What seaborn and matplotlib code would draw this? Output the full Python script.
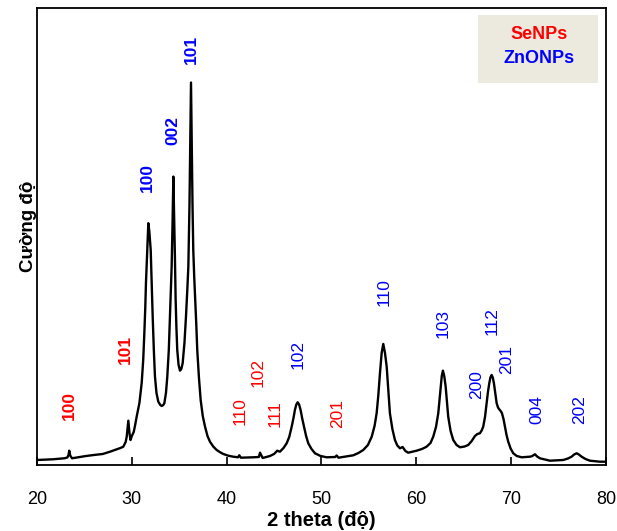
import matplotlib
matplotlib.use("Agg")
import pandas as pd
import matplotlib.pyplot as plt
import seaborn as sns
from matplotlib.patches import Rectangle

# XRD pattern (2 theta in degrees, intensity in a.u.)
two_theta = [20.00, 21.65, 22.88, 23.20, 23.32, 23.40, 23.50, 23.69, 24.50, 25.17,
             26.00, 26.93, 27.70, 28.40, 28.80, 29.10, 29.35, 29.46, 29.63, 29.75,
             29.86, 30.00, 30.20, 30.35, 30.51, 30.80, 31.04, 31.20, 31.32, 31.42,
             31.49, 31.63, 31.74, 31.85, 31.99, 32.10, 32.20, 32.32, 32.44, 32.60,
             32.79, 33.00, 33.15, 33.30, 33.43, 33.60, 33.74, 33.90, 34.02, 34.12,
             34.20, 34.30, 34.38, 34.47, 34.55, 34.62, 34.70, 34.79, 34.93, 35.08,
             35.22, 35.36, 35.55, 35.71, 35.85, 35.96, 36.08, 36.16, 36.24, 36.33,
             36.40, 36.48, 36.58, 36.69, 36.80, 36.90, 37.08, 37.26, 37.48, 37.72,
             37.98, 38.24, 38.60, 38.95, 39.30, 39.65, 40.20, 40.70, 41.20, 41.33,
             41.50, 42.80, 43.40, 43.52, 43.80, 44.57, 45.00, 45.34, 45.62, 46.00,
             46.33, 46.60, 46.86, 47.05, 47.20, 47.35, 47.49, 47.64, 47.80, 47.98,
             48.16, 48.38, 48.61, 48.95, 49.32, 49.90, 50.55, 51.45, 51.60, 51.80,
             52.60, 53.36, 53.90, 54.41, 54.90, 55.30, 55.60, 55.82, 56.00, 56.17,
             56.35, 56.52, 56.70, 56.88, 57.05, 57.22, 57.48, 57.75, 58.00, 58.28,
             58.56, 58.85, 59.15, 60.04, 60.60, 61.09, 61.50, 61.79, 62.08, 62.32,
             62.45, 62.57, 62.69, 62.81, 62.95, 63.10, 63.23, 63.37, 63.62, 63.90,
             64.25, 64.61, 65.10, 65.48, 65.85, 66.19, 66.45, 66.71, 66.90, 67.06,
             67.25, 67.42, 67.56, 67.70, 67.82, 67.95, 68.07, 68.19, 68.33, 68.48,
             68.62, 68.75, 68.90, 69.04, 69.20, 69.35, 69.52, 69.70, 69.95, 70.23,
             70.60, 71.11, 71.99, 72.20, 72.52, 72.75, 73.04, 74.10, 75.50, 76.00,
             76.38, 76.65, 76.91, 77.15, 77.44, 77.85, 78.31, 79.37, 80.00]
intensity = [50, 57, 67, 75, 100, 143, 95, 67, 80, 90,
             100, 110, 133, 157, 170, 183, 230, 283, 443, 320,
             250, 290, 330, 400, 483, 620, 820, 1050, 1320, 1580,
             1820, 2150, 2417, 2330, 2150, 1800, 1483, 1150, 883, 720,
             633, 600, 590, 598, 617, 720, 883, 1150, 1483, 1750,
             1983, 2450, 2883, 2450, 2050, 1650, 1380, 1150, 1000, 943,
             960, 1017, 1220, 1483, 1750, 1983, 2600, 3200, 3823, 3100,
             2600, 2150, 1880, 1650, 1400, 1150, 870, 650, 490, 383,
             290, 233, 183, 150, 128, 110, 92, 83, 77, 97,
             73, 77, 80, 123, 70, 90, 110, 143, 133, 170,
             217, 280, 383, 470, 550, 605, 627, 605, 550, 460,
             383, 290, 217, 160, 117, 90, 77, 80, 95, 73,
             85, 97, 120, 150, 200, 283, 390, 517, 700, 917,
             1120, 1210, 1120, 983, 750, 517, 360, 250, 195, 167,
             180, 140, 123, 143, 160, 183, 220, 283, 380, 517,
             650, 783, 890, 943, 890, 783, 640, 483, 340, 250,
             200, 177, 185, 200, 240, 290, 310, 317, 345, 383,
             480, 617, 730, 817, 875, 900, 875, 817, 720, 617,
             575, 557, 540, 517, 460, 383, 300, 233, 165, 117,
             90, 77, 83, 88, 107, 85, 67, 43, 50, 65,
             83, 105, 117, 105, 83, 60, 43, 33, 33]

# peak labels: position, label height, text, phase, bold
lab_x = [23.4, 29.35, 31.67, 34.38, 36.24, 41.41, 43.27, 45.10, 47.49,
         51.67, 56.59, 62.85, 66.37, 68.02, 69.53, 72.69, 77.19]
lab_y = [593, 1160, 2875, 3340, 4153, 540, 925, 515, 1100,
         510, 1725, 1410, 800, 1440, 1050, 550, 550]
lab_text = ["100", "101", "100", "002", "101", "110", "102", "111", "102",
            "201", "110", "103", "200", "112", "201", "004", "202"]
lab_phase = ["Se", "Se", "ZnO", "ZnO", "ZnO", "Se", "Se", "Se", "ZnO",
             "Se", "ZnO", "ZnO", "ZnO", "ZnO", "ZnO", "ZnO", "ZnO"]
lab_bold = [True, True, True, True, True, False, False, False, False,
            False, False, False, False, False, False, False, False]

x_ticks = [20, 30, 40, 50, 60, 70, 80]
phase_colors = {"Se": "#ff0000", "ZnO": "#0000ff"}

df = pd.DataFrame({"two_theta": two_theta, "intensity": intensity})

sns.set_style("ticks")
plt.rcParams["font.family"] = ["Liberation Sans", "DejaVu Sans"]

fig = plt.figure(figsize=(6.17, 5.31), dpi=100)
ax = fig.add_axes([0.06, 0.1243, 0.922, 0.861])

sns.lineplot(data=df, x="two_theta", y="intensity", color="black", linewidth=1.7, ax=ax)

for x, y, t, ph, b in zip(lab_x, lab_y, lab_text, lab_phase, lab_bold):
    ax.text(x, y, t, rotation=90, ha="center", va="center", fontsize=12.5,
            color=phase_colors[ph], fontweight="bold" if b else "normal")

# legend box
ax.add_patch(Rectangle((0.7745, 0.835), 0.2125, 0.15, transform=ax.transAxes,
                       facecolor="#ece9df", edgecolor="none", zorder=3))
ax.text(0.882, 0.941, "SeNPs", transform=ax.transAxes, ha="center", va="center",
        color="#ff0000", fontsize=13, fontweight="bold", zorder=4)
ax.text(0.882, 0.890, "ZnONPs", transform=ax.transAxes, ha="center", va="center",
        color="#0000ff", fontsize=13, fontweight="bold", zorder=4)

ax.set_xlim(20, 80)
ax.set_ylim(0, 4570)
ax.set_xticks(x_ticks)
ax.tick_params(axis="x", direction="in", length=6, width=1.2, labelsize=13,
               pad=19, colors="black")
ax.tick_params(axis="y", left=False, labelleft=False)
for s in ax.spines.values():
    s.set_linewidth(1.3)
    s.set_color("black")

ax.set_xlabel("2 theta (độ)", fontsize=14.5, fontweight="bold", labelpad=2, color="black")
ax.set_ylabel("Cường độ", fontsize=13.5, fontweight="bold", color="black")
ax.yaxis.set_label_coords(0.0, 0.523)

fig.savefig("out.png", dpi=100)
